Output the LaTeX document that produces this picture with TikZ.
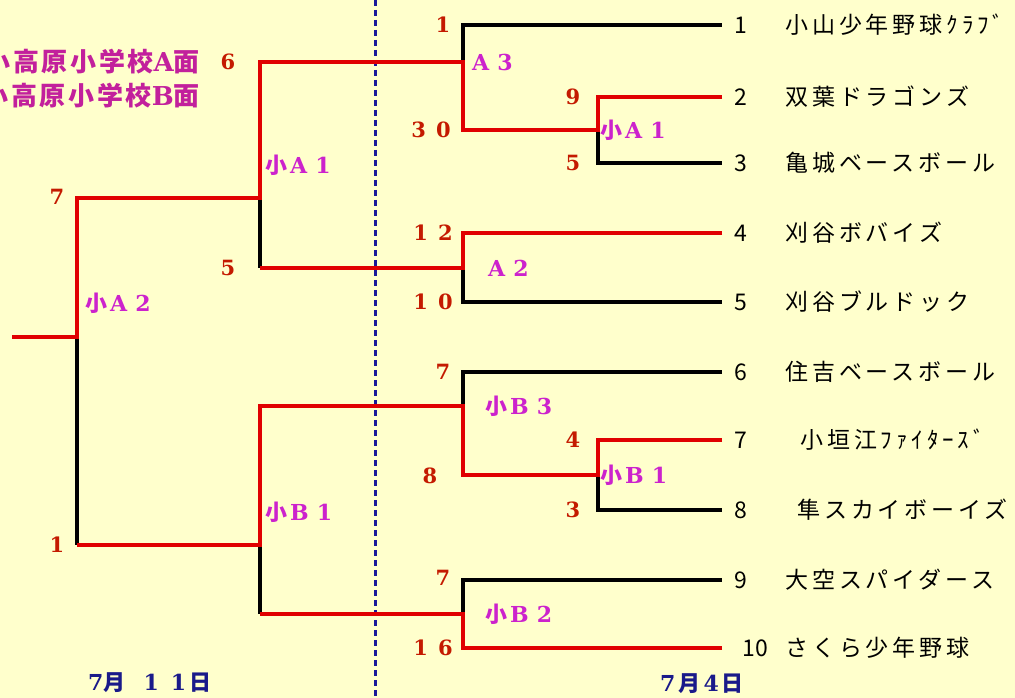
\documentclass[tikz,border=0pt]{standalone}
\usepackage{fontspec}
\newfontfamily\jp{Noto Sans CJK JP}
\newfontfamily\jpteam{Noto Sans CJK JP}[LetterSpace=17]
\newfontfamily\jpls{Noto Sans CJK JP}[LetterSpace=10]
\newfontfamily\sr{DejaVu Serif}
\definecolor{bgc}{HTML}{FFFFCC}
\definecolor{redl}{HTML}{E00000}
\definecolor{scorec}{HTML}{C41A00}
\definecolor{labc}{HTML}{CC22CC}
\definecolor{leftc}{HTML}{C2209C}
\definecolor{dotc}{HTML}{1A1A9A}
\definecolor{datec}{HTML}{1A1A8A}
\newcommand\LabS[3]{{\jp\bfseries #1}\hspace{3pt}{\sr\bfseries #2\hspace{8pt}#3}}
\begin{document}
\begin{tikzpicture}[x=1pt,y=-1pt,
  winline/.style={draw=redl,line width=4.2pt},
  loseline/.style={draw=black,line width=4.2pt},
  team/.style={anchor=west,inner sep=0pt,font=\jpteam\fontsize{23}{23}\selectfont,text=black},
  tnum/.style={inner sep=0pt,font=\jp\fontsize{23}{23}\selectfont,text=black},
  score/.style={inner sep=0pt,font=\sr\bfseries\fontsize{21}{21}\selectfont,text=scorec},
  lab/.style={anchor=west,inner sep=0pt,font=\fontsize{22}{22}\selectfont,text=labc},
  lefttxt/.style={anchor=east,inner sep=0pt,font=\jpls\bfseries\fontsize{26}{26}\selectfont,text=leftc},
  datetxt/.style={anchor=west,inner sep=0pt,font=\fontsize{22}{22}\selectfont,text=datec}]
\fill[bgc] (0,0) rectangle (1015,698);
\useasboundingbox (0,0) rectangle (1015,698);

% dotted separator
\coordinate (dtop) at (375,0);
\coordinate (dbot) at (375,698);
\draw[dotc,line width=3pt,dash pattern=on 6pt off 4pt] (dtop) -- (dbot);

% team line ends
\foreach \i/\y in {1/25,2/97,3/163,4/233,5/302,6/372,7/440,8/510,9/580,10/648}
  \coordinate (e\i) at (722,\y);

% junctions (top, mid, bottom)
\coordinate (A3t) at (463,25);  \coordinate (A3m) at (463,62);  \coordinate (A3b) at (463,130);
\coordinate (RA1t) at (598,97); \coordinate (RA1m) at (598,130);\coordinate (RA1b) at (598,163);
\coordinate (A2t) at (463,233); \coordinate (A2m) at (463,268); \coordinate (A2b) at (463,302);
\coordinate (B3t) at (463,372); \coordinate (B3m) at (463,406); \coordinate (B3b) at (463,475);
\coordinate (RB1t) at (598,440);\coordinate (RB1m) at (598,475);\coordinate (RB1b) at (598,510);
\coordinate (B2t) at (463,580); \coordinate (B2m) at (463,614); \coordinate (B2b) at (463,648);
\coordinate (LA1t) at (260,62); \coordinate (LA1m) at (260,198);\coordinate (LA1b) at (260,268);
\coordinate (LB1t) at (260,406);\coordinate (LB1m) at (260,545);\coordinate (LB1b) at (260,614);
\coordinate (A2Lt) at (77,198); \coordinate (A2Lm) at (77,337); \coordinate (A2Lb) at (77,545);
\coordinate (out) at (12,337);

% losing (black) segments
\draw[loseline] (A3m) -- (A3t) -- (e1);
\draw[loseline] (RA1m) -- (RA1b) -- (e3);
\draw[loseline] (LA1m) -- (LA1b);
\draw[loseline] (A2m) -- (A2b) -- (e5);
\draw[loseline] (A2Lm) -- (A2Lb);
\draw[loseline] (B3m) -- (B3t) -- (e6);
\draw[loseline] (RB1m) -- (RB1b) -- (e8);
\draw[loseline] (LB1m) -- (LB1b);
\draw[loseline] (B2m) -- (B2t) -- (e9);

% winning (red) paths
\draw[winline] (e2) -- (RA1t) -- (RA1m) -- (A3b) -- (A3m) -- (LA1t) -- (LA1m) -- (A2Lt) -- (A2Lm) -- (out);
\draw[winline] (e4) -- (A2t) -- (A2m) -- (LA1b);
\draw[winline] (e7) -- (RB1t) -- (RB1m) -- (B3b) -- (B3m) -- (LB1t) -- (LB1m) -- (A2Lb);
\draw[winline] (e10) -- (B2b) -- (B2m) -- (LB1b);

% team numbers and names
\foreach \i/\y in {1/25,2/97,3/163,4/233,5/302,6/372,7/440,8/510,9/580}
  \node[tnum] (n\i) at (741,\y) {\i};
\node[tnum] (n10) at (755,648) {10};
\node[team] (t1) at (785,25) {小山少年野球ｸﾗﾌﾞ};
\node[team] (t2) at (785,97) {双葉ドラゴンズ};
\node[team] (t3) at (785,163) {亀城ベースボール};
\node[team] (t4) at (785,233) {刈谷ボバイズ};
\node[team] (t5) at (785,302) {刈谷ブルドック};
\node[team] (t6) at (785,372) {住吉ベースボール};
\node[team] (t7) at (800,440) {小垣江ﾌｧｲﾀｰｽﾞ};
\node[team] (t8) at (797,510) {隼スカイボーイズ};
\node[team] (t9) at (785,580) {大空スパイダース};
\node[team] (t10) at (785,648) {さくら少年野球};

% scores
\node[score] (s1) at (443,25) {1};
\node[score] (s2) at (431,130) {3\hspace{10pt}0};
\node[score] (s3) at (573,97) {9};
\node[score] (s4) at (573,163) {5};
\node[score] (s5) at (433,233) {1\hspace{10pt}2};
\node[score] (s6) at (433,302) {1\hspace{10pt}0};
\node[score] (s7) at (443,372) {7};
\node[score] (s8) at (430,476) {8};
\node[score] (s9) at (573,440) {4};
\node[score] (s10) at (573,510) {3};
\node[score] (s11) at (443,578) {7};
\node[score] (s12) at (433,648) {1\hspace{10pt}6};
\node[score] (s13) at (228,62) {6};
\node[score] (s14) at (228,268) {5};
\node[score] (s15) at (57,197) {7};
\node[score] (s16) at (57,545) {1};

% match labels
\node[lab] (mA3) at (472,62) {{\sr\bfseries A\hspace{8pt}3}};
\node[lab] (mRA1) at (600,130) {\LabS{小}{A}{1}};
\node[lab] (mA2) at (488,268) {{\sr\bfseries A\hspace{8pt}2}};
\node[lab] (mB3) at (485,406) {\LabS{小}{B}{3}};
\node[lab] (mRB1) at (600,475) {\LabS{小}{B}{1}};
\node[lab] (mB2) at (485,614) {\LabS{小}{B}{2}};
\node[lab] (mLA1) at (265,165) {\LabS{小}{A}{1}};
\node[lab] (mLB1) at (265,512) {\LabS{小}{B}{1}};
\node[lab] (mA2L) at (85,303) {\LabS{小}{A}{2}};

% venue texts (cut at the left edge, as in the reference)
\node[lefttxt] (vA) at (200,62) {小高原小学校{\sr\bfseries A}面};
\node[lefttxt] (vB) at (200,96) {小高原小学校{\sr\bfseries B}面};

% dates
\node[datetxt] (d1) at (88,683) {{\sr\bfseries 7}{\jp\bfseries 月}\hspace{18pt}{\sr\bfseries 1\hspace{12pt}1}\hspace{3pt}{\jp\bfseries 日}};
\node[datetxt] (d2) at (660,684) {{\sr\bfseries 7}\hspace{3pt}{\jp\bfseries 月}\hspace{3pt}{\sr\bfseries 4}\hspace{3pt}{\jp\bfseries 日}};
\end{tikzpicture}
\end{document}
